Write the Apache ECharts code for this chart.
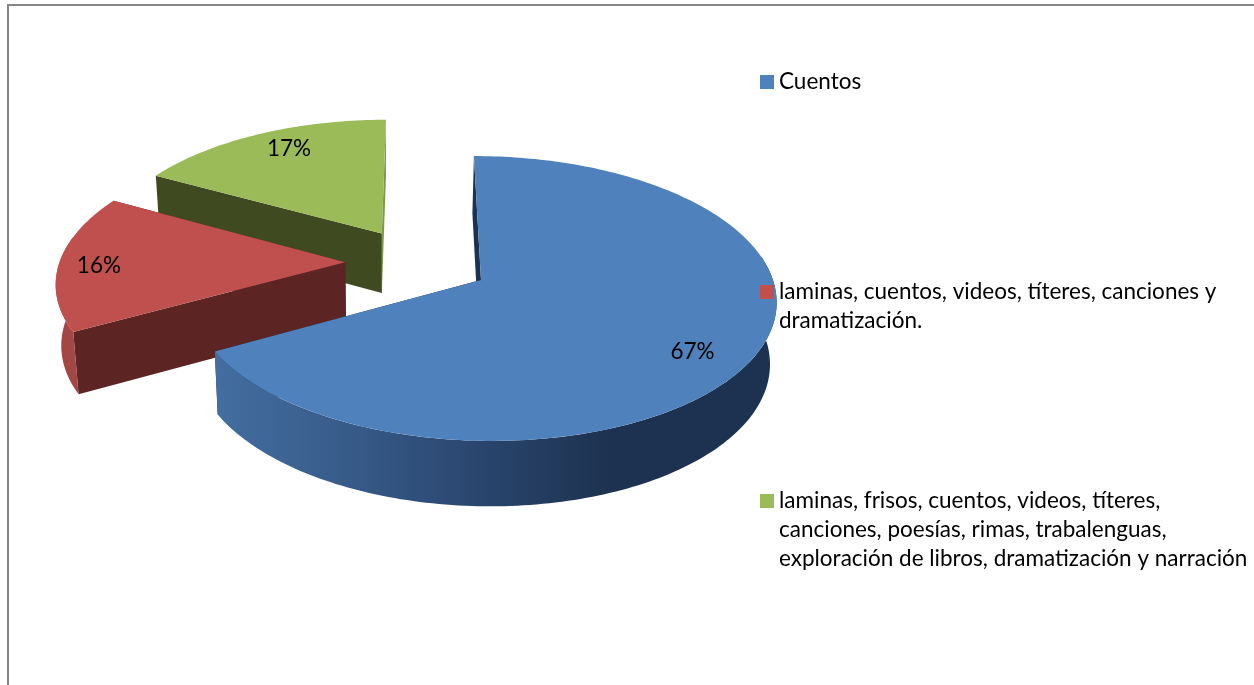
<!DOCTYPE html>
<html>
<head>
<meta charset="utf-8">
<style>html,body{margin:0;padding:0;background:#fff}#c{width:1254px;height:685px}</style>
<script src="https://cdn.jsdelivr.net/npm/echarts@6/dist/echarts.min.js"></script>
</head>
<body>
<div id="c"></div>
<script>
const categories = [
  'Cuentos',
  'laminas, cuentos, videos, títeres, canciones y dramatización.',
  'laminas, frisos, cuentos, videos, títeres, canciones, poesías, rimas, trabalenguas, exploración de libros, dramatización y narración'
];
const legendLines = [
  ['Cuentos'],
  ['laminas, cuentos, videos, títeres, canciones y', 'dramatización.'],
  ['laminas, frisos, cuentos, videos, títeres,', 'canciones, poesías, rimas, trabalenguas,', 'exploración de libros, dramatización y narración']
];
const values = [67, 16, 17];
const topColors = ['#4f81bd', '#c0504d', '#9bbb59'];
const cutColors = ['#1d3250', '#5c2524', '#404a20'];

const FONT = 'Lato, "Open Sans", sans-serif';
const FONT_SIZE = 22.5;
const LINE = 29;
const legendCenterY = [82, 292, 501];
const labelNudge = [[-24, 6], [0, 3], [16, 3]];
const radialScale = [1, 1.01, 1];

// projection of the tilted pie
const P = { ox: 481, oy: 280, rx: 290.5, ry: 140, shear: 8, k: 0.13, m: 0.005, depth: 61, conv: 0.983, convX: 385, explode: 0.254 };
const FRONT_FROM = 1.4, FRONT_TO = 4.9; // angular span of the outer wall that faces the viewer
const total = values.reduce((a, b) => a + b, 0);
const starts = values.map((v, i) => values.slice(0, i).reduce((a, b) => a + b, 0) / total * 2 * Math.PI);
const ends = values.map((v, i) => starts[i] + v / total * 2 * Math.PI);
const mids = starts.map((s, i) => (s + ends[i]) / 2);

// every slice is moved outwards; the first slice's apex is the projection origin
const off = i => [P.explode * (Math.sin(mids[i]) - Math.sin(mids[0])), P.explode * (-Math.cos(mids[i]) + Math.cos(mids[0]))];

function project(U, V, lower) {
  const w = 1 - P.k * V - P.m * U;
  let x = P.ox + (P.rx * U + P.shear * V) / w;
  let y = P.oy + P.ry * V / w;
  if (lower) {
    x = P.convX + (x - P.convX) * P.conv;
    y += P.depth / Math.sqrt(w);
  }
  return [x, y];
}
function rim(i, a, r, lower) {
  const o = off(i);
  return project(o[0] + r * Math.sin(a), o[1] - r * Math.cos(a), lower);
}
function arc(i, a0, a1, lower) {
  const n = Math.max(8, Math.ceil((a1 - a0) / 0.02));
  const pts = [];
  for (let j = 0; j <= n; j++) pts.push(rim(i, a0 + (a1 - a0) * j / n, radialScale[i], lower));
  return pts;
}
const wallFills = [
  new echarts.graphic.LinearGradient(216, 0, 640, 0, [
    { offset: 0, color: '#436e9f' }, { offset: 0.25, color: '#3a5f8e' },
    { offset: 0.6, color: '#2a4770' }, { offset: 0.92, color: '#1d3250' }, { offset: 1, color: '#1d3250' }
  ], true),
  '#a34745',
  '#7d9a47'
];
function poly(points, fill) {
  return { type: 'polygon', shape: { points }, style: { fill, lineWidth: 0 }, silent: true };
}
function renderSlice(i) {
  return function () {
    const a0 = starts[i], a1 = ends[i], R = radialScale[i];
    const top = arc(i, a0, a1, false);
    const apexT = rim(i, 0, 0, false), apexB = rim(i, 0, 0, true);
    const children = [
      poly([apexT, rim(i, a1, R, false), rim(i, a1, R, true), apexB], i === 2 ? '#7d9a47' : cutColors[i]),
      poly([apexT, rim(i, a0, R, false), rim(i, a0, R, true), apexB], cutColors[i])
    ];
    const w0 = Math.max(a0, FRONT_FROM), w1 = Math.min(a1, FRONT_TO);
    if (w1 > w0) {
      children.push(poly(arc(i, w0, w1, false).concat(arc(i, w0, w1, true).reverse()), wallFills[i]));
    }
    children.push(poly([apexT].concat(top), topColors[i]));
    const lp = rim(i, mids[i], 0.87, false);
    children.push({
      type: 'text', silent: true,
      style: {
        x: lp[0] + labelNudge[i][0], y: lp[1] + labelNudge[i][1],
        text: Math.round(values[i] / total * 100) + '%',
        fill: '#000', font: FONT_SIZE + 'px ' + FONT, align: 'center', verticalAlign: 'middle'
      }
    });
    return { type: 'group', children };
  };
}

const chart = echarts.init(document.getElementById('c'), null, { renderer: 'canvas' });
chart.setOption({
  animation: false,
  backgroundColor: '#ffffff',
  graphic: [
    { type: 'rect', shape: { x: 7, y: 4, width: 1247, height: 2 }, style: { fill: '#868686' }, silent: true },
    { type: 'rect', shape: { x: 7, y: 4, width: 2, height: 681 }, style: { fill: '#868686' }, silent: true }
  ],
  legend: categories.map((name, i) => {
    const n = legendLines[i].length;
    return {
      left: 760,
      top: legendCenterY[i] - (2 * n - 1) * LINE / 2,
      padding: 0, z: 20,
      itemWidth: 14, itemHeight: 14, itemGap: 0,
      icon: 'rect', selectedMode: false, orient: 'vertical',
      data: [name],
      // leading blank lines keep the swatch level with the first line of wrapped text
      formatter: () => '\n'.repeat(n - 1) + legendLines[i].join('\n'),
      textStyle: { fontFamily: FONT, fontSize: FONT_SIZE, color: '#000', lineHeight: LINE }
    };
  }),
  series: categories.map((name, i) => ({
    type: 'custom', name, coordinateSystem: 'none',
    z: 2 + (2 - i),
    itemStyle: { color: topColors[i] },
    renderItem: renderSlice(i),
    data: [[values[i]]]
  }))
});
</script>
</body>
</html>
